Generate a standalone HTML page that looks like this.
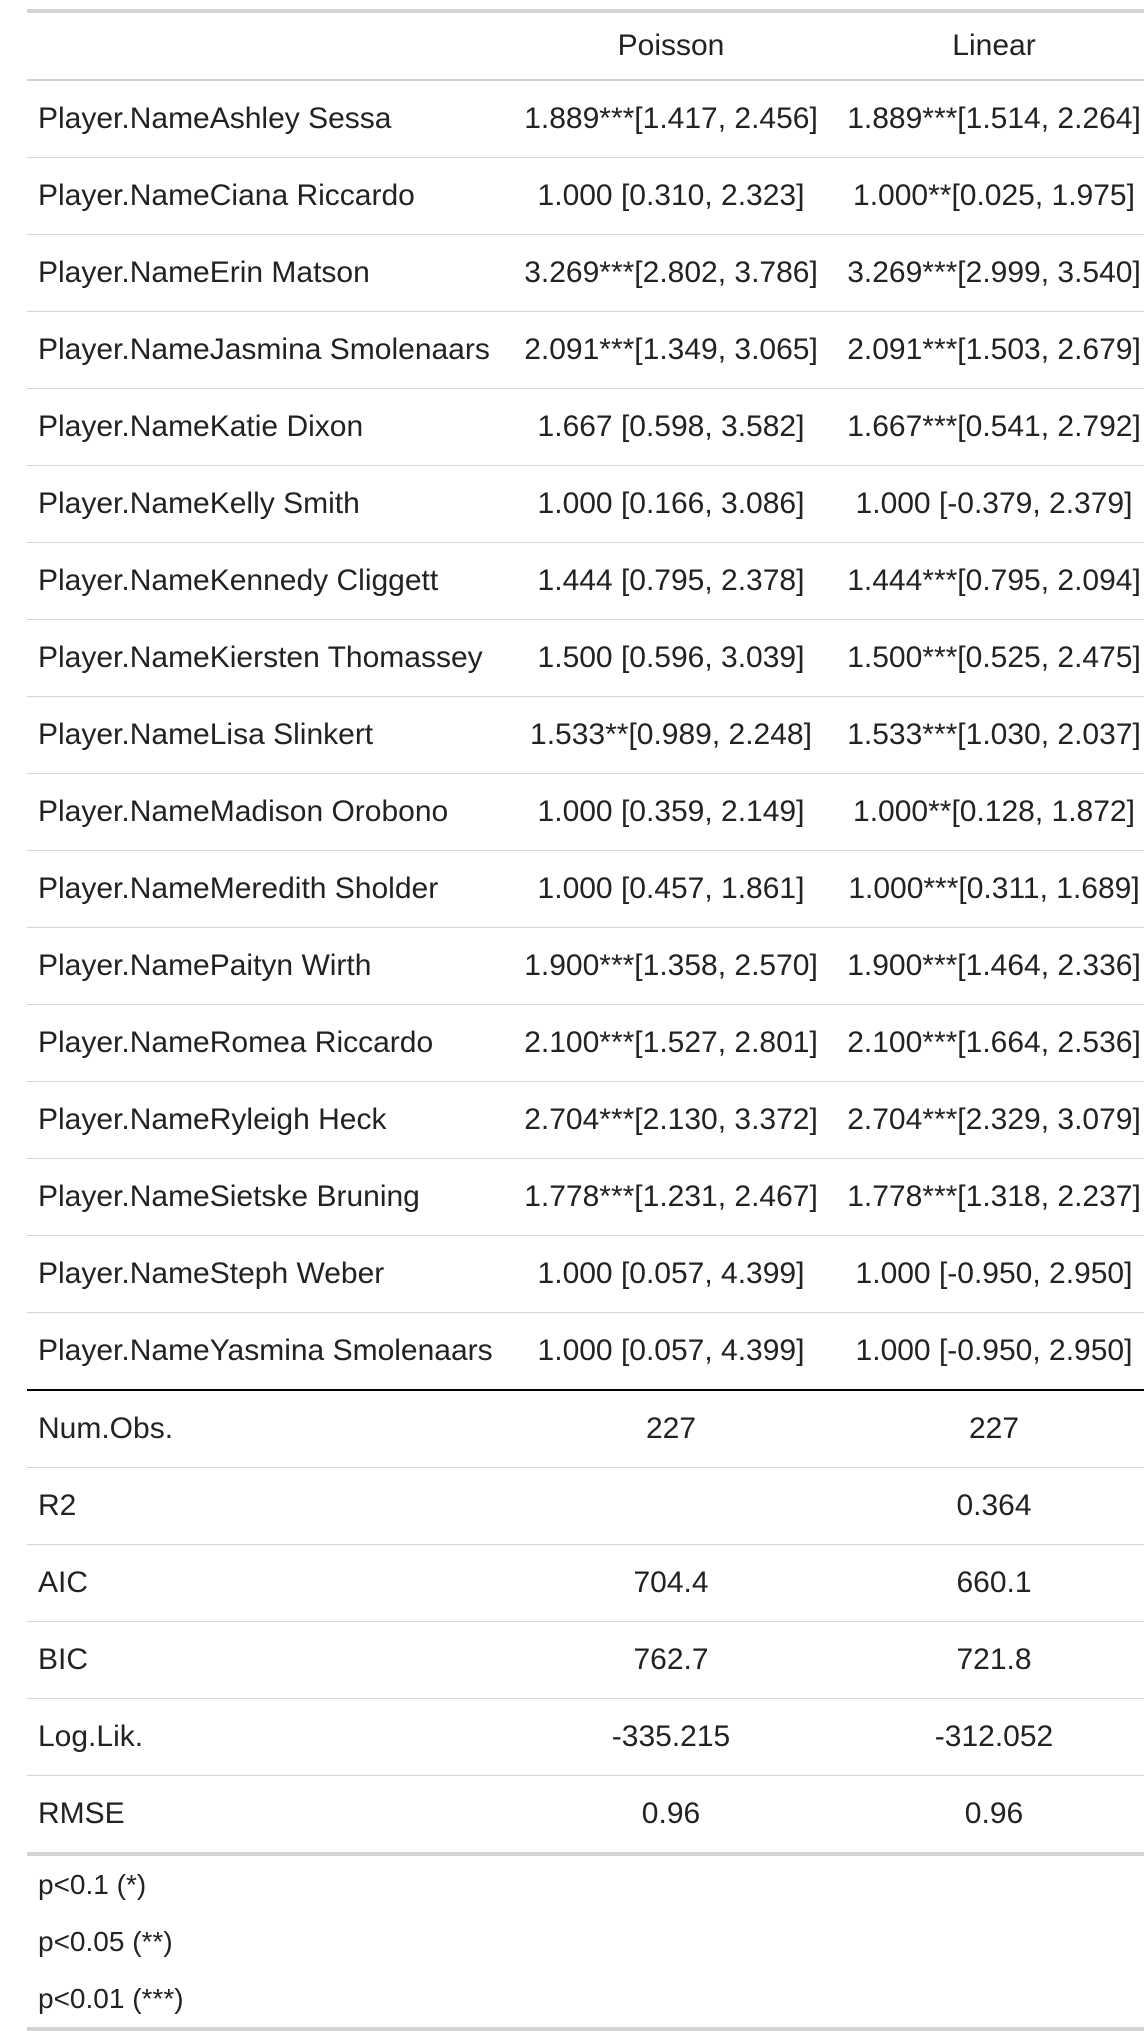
<!DOCTYPE html>
<html><head><meta charset="utf-8">
<style>
html,body{margin:0;padding:0;background:#fff;width:1148px;height:2010px;overflow:hidden}
table{position:absolute;left:27px;top:9px;width:1117px;table-layout:fixed;border-collapse:collapse;font-family:"Liberation Sans",sans-serif;font-size:30px;color:#222}
td,th{height:76px;padding:0 0 0 11px;border-bottom:1px solid #d4d4d4;font-weight:normal;white-space:nowrap;overflow:visible}
thead th{height:66px;border-top:4px solid #d3d3d3;border-bottom:2px solid #d0d0d0}
td.c,th.c{text-align:center;padding:0}
col.a{width:471px} col.b{width:346px} col.d{width:300px}
tr.last-coef td{border-bottom:2px solid #000}
tr.rmse td{border-bottom:4px solid #d3d3d3}
tr.fn td{height:57px;border-bottom:none;font-size:28px}
tr.fn.end td{border-bottom:4px solid #d3d3d3}
</style></head><body>
<table>
<colgroup><col class="a"><col class="b"><col class="d"></colgroup>
<thead><tr><th></th><th class="c">Poisson</th><th class="c">Linear</th></tr></thead>
<tbody>
<tr><td>Player.NameAshley Sessa</td><td class="c">1.889***[1.417, 2.456]</td><td class="c">1.889***[1.514, 2.264]</td></tr>
<tr><td>Player.NameCiana Riccardo</td><td class="c">1.000 [0.310, 2.323]</td><td class="c">1.000**[0.025, 1.975]</td></tr>
<tr><td>Player.NameErin Matson</td><td class="c">3.269***[2.802, 3.786]</td><td class="c">3.269***[2.999, 3.540]</td></tr>
<tr><td>Player.NameJasmina Smolenaars</td><td class="c">2.091***[1.349, 3.065]</td><td class="c">2.091***[1.503, 2.679]</td></tr>
<tr><td>Player.NameKatie Dixon</td><td class="c">1.667 [0.598, 3.582]</td><td class="c">1.667***[0.541, 2.792]</td></tr>
<tr><td>Player.NameKelly Smith</td><td class="c">1.000 [0.166, 3.086]</td><td class="c">1.000 [-0.379, 2.379]</td></tr>
<tr><td>Player.NameKennedy Cliggett</td><td class="c">1.444 [0.795, 2.378]</td><td class="c">1.444***[0.795, 2.094]</td></tr>
<tr><td>Player.NameKiersten Thomassey</td><td class="c">1.500 [0.596, 3.039]</td><td class="c">1.500***[0.525, 2.475]</td></tr>
<tr><td>Player.NameLisa Slinkert</td><td class="c">1.533**[0.989, 2.248]</td><td class="c">1.533***[1.030, 2.037]</td></tr>
<tr><td>Player.NameMadison Orobono</td><td class="c">1.000 [0.359, 2.149]</td><td class="c">1.000**[0.128, 1.872]</td></tr>
<tr><td>Player.NameMeredith Sholder</td><td class="c">1.000 [0.457, 1.861]</td><td class="c">1.000***[0.311, 1.689]</td></tr>
<tr><td>Player.NamePaityn Wirth</td><td class="c">1.900***[1.358, 2.570]</td><td class="c">1.900***[1.464, 2.336]</td></tr>
<tr><td>Player.NameRomea Riccardo</td><td class="c">2.100***[1.527, 2.801]</td><td class="c">2.100***[1.664, 2.536]</td></tr>
<tr><td>Player.NameRyleigh Heck</td><td class="c">2.704***[2.130, 3.372]</td><td class="c">2.704***[2.329, 3.079]</td></tr>
<tr><td>Player.NameSietske Bruning</td><td class="c">1.778***[1.231, 2.467]</td><td class="c">1.778***[1.318, 2.237]</td></tr>
<tr><td>Player.NameSteph Weber</td><td class="c">1.000 [0.057, 4.399]</td><td class="c">1.000 [-0.950, 2.950]</td></tr>
<tr class="last-coef"><td>Player.NameYasmina Smolenaars</td><td class="c">1.000 [0.057, 4.399]</td><td class="c">1.000 [-0.950, 2.950]</td></tr>
<tr><td>Num.Obs.</td><td class="c">227</td><td class="c">227</td></tr>
<tr><td>R2</td><td class="c"></td><td class="c">0.364</td></tr>
<tr><td>AIC</td><td class="c">704.4</td><td class="c">660.1</td></tr>
<tr><td>BIC</td><td class="c">762.7</td><td class="c">721.8</td></tr>
<tr><td>Log.Lik.</td><td class="c">-335.215</td><td class="c">-312.052</td></tr>
<tr class="rmse"><td>RMSE</td><td class="c">0.96</td><td class="c">0.96</td></tr>
<tr class="fn"><td colspan="3">p&lt;0.1 (*)</td></tr>
<tr class="fn"><td colspan="3">p&lt;0.05 (**)</td></tr>
<tr class="fn end"><td colspan="3">p&lt;0.01 (***)</td></tr>
</tbody></table>
</body></html>
